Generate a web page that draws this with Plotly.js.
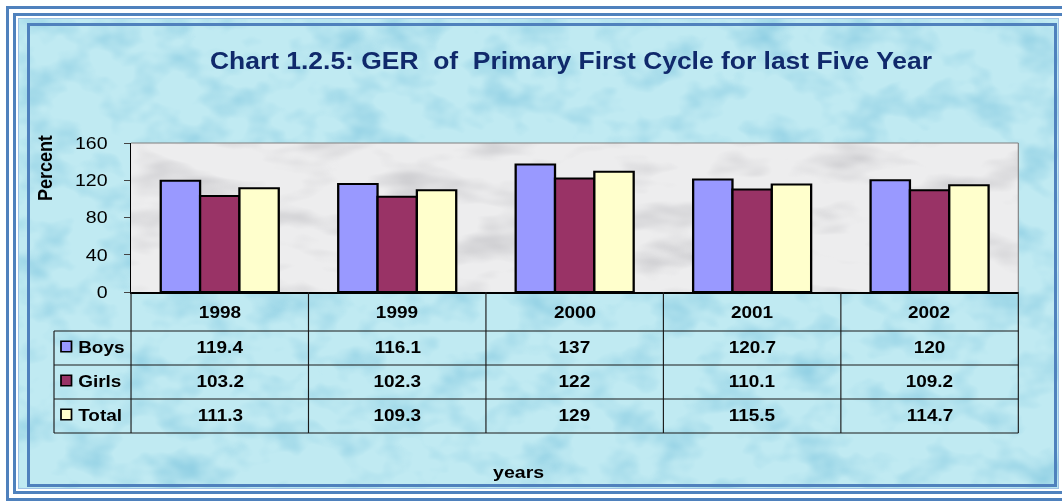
<!DOCTYPE html>
<html>
<head>
<meta charset="utf-8">
<script src="https://cdn.plot.ly/plotly-3.0.1.min.js"></script>
<style>
  html, body { margin: 0; padding: 0; background: #ffffff; width: 1062px; height: 501px; overflow: hidden; }
  .frame { position: absolute; box-sizing: border-box; }
  #f1 { left: 6px; top: 6px; width: 2000px; height: 495px; border: 3px solid #4f81bd; }
  #f2 { left: 13px; top: 13px; width: 2000px; height: 481px; border: 3px solid #4f81bd; }
  #f3 { left: 18px; top: 18px; width: 1041px; height: 471px; border: 1px solid #9fc2e4; background-color: #b7e5ee; }
  #f4 { left: 27px; top: 23px; width: 1030px; height: 464px; border: 3px solid #4f81bd; background-color: #b7e5ee; }
  #chart { position: absolute; left: 0; top: 0; width: 924px; height: 501px; transform-origin: 0 0; }
</style>
</head>
<body>
<div class="frame" id="f1"></div>
<div class="frame" id="f2"></div>
<div class="frame" id="f3"></div>
<div class="frame" id="f4"></div>
<div id="chart"></div>
<script>
// ---- data ----
const categories = ["1998", "1999", "2000", "2001", "2002"];
const seriesNames = ["Boys", "Girls", "Total"];
const boys  = [119.4, 116.1, 137, 120.7, 120];
const girls = [103.2, 102.3, 122, 110.1, 109.2];
const total = [111.3, 109.3, 129, 115.5, 114.7];
const yTicks = [0, 40, 80, 120, 160];
const titleText = "Chart 1.2.5: GER\u00a0 of\u00a0 Primary First Cycle for last Five Year";
const yTitle = "Percent";
const xTitle = "years";

// ---- decorative textures (SVG noise filters) ----
function texture(w, h, base, r, g, b, k, c, freq, seed) {
  const svg = "<svg xmlns='http://www.w3.org/2000/svg' width='" + w + "' height='" + h + "'>" +
    "<filter id='n' x='0' y='0' width='100%' height='100%' color-interpolation-filters='sRGB'>" +
    "<feTurbulence type='fractalNoise' baseFrequency='" + freq +
    "' numOctaves='3' seed='" + seed + "'/><feColorMatrix type='matrix' values='0 0 0 0 " + r + " 0 0 0 0 " + g +
    " 0 0 0 0 " + b + " " + k + " 0 0 0 " + c + "'/></filter>" +
    "<rect width='100%' height='100%' fill='" + base + "'/><rect width='100%' height='100%' filter='url(#n)'/></svg>";
  return 'data:image/svg+xml;charset=utf-8,' + encodeURIComponent(svg);
}
const water = texture(1041, 471, '#c0eaf2', 0.56, 0.81, 0.89, 2.0, -0.9, '0.022 0.03', 7);
['f3', 'f4'].forEach(id => {
  const el = document.getElementById(id);
  el.style.backgroundImage = 'url("' + water + '")';
  el.style.backgroundPosition = id === 'f3' ? '0 0' : '-9px -5px';
  el.style.backgroundRepeat = 'no-repeat';
});
const marble = texture(900, 160, '#ededee', 0.70, 0.70, 0.72, 1.5, -0.75, '0.012 0.03', 3);

// ---- geometry (page pixels) ----
const PAGE_W = 1062, PAGE_H = 501, PW = 924;
const S = PAGE_W / PW;                 // horizontal stretch of the reference
const L = 131, R = 1018, T = 143, B = 292;
document.getElementById('chart').style.transform = 'scaleX(' + S + ')';
const fx = p => (p - L) / (R - L);
const fy = p => (B - p) / (B - T);

const colors = ["#9999ff", "#993366", "#ffffcc"];
const values = [boys, girls, total];
const FONT = "Liberation Sans, Arial, sans-serif";

const traces = values.map((v, i) => ({
  type: 'bar', name: seriesNames[i], x: categories, y: v,
  marker: { color: colors[i], line: { color: '#000000', width: 2 } },
  hoverinfo: 'x+y+name'
}));

// table geometry
const rowLines = [331, 365, 399, 433];
const rowCenters = [346.5, 380.5, 414.5];
const headerCenter = 311.5;
const labelLeft = 54;
const lineColor = '#1a1a1a';

const shapes = [];
shapes.push({ type: 'line', xref: 'paper', yref: 'paper', x0: 0, x1: 1, y0: 1, y1: 1, line: { color: '#808080', width: 1 } });
shapes.push({ type: 'line', xref: 'paper', yref: 'paper', x0: 1, x1: 1, y0: 0, y1: 1, line: { color: '#808080', width: 1 } });
for (let i = 0; i <= categories.length; i++) {
  shapes.push({ type: 'line', xref: 'paper', yref: 'paper', x0: i / categories.length, x1: i / categories.length,
    y0: 0, y1: fy(rowLines[rowLines.length - 1]), line: { color: lineColor, width: 1 } });
}
shapes.push({ type: 'line', xref: 'paper', yref: 'paper', x0: fx(labelLeft), x1: fx(labelLeft),
  y0: fy(rowLines[0]), y1: fy(rowLines[rowLines.length - 1]), line: { color: lineColor, width: 1 } });
rowLines.forEach(r => shapes.push({ type: 'line', xref: 'paper', yref: 'paper', x0: fx(labelLeft), x1: 1,
  y0: fy(r), y1: fy(r), line: { color: lineColor, width: 1 } }));
const keyX0 = 61, keyX1 = 71.5, keyH = 10.5;
rowCenters.forEach((c, i) => shapes.push({ type: 'rect', xref: 'paper', yref: 'paper',
  x0: fx(keyX0), x1: fx(keyX1), y0: fy(c - keyH / 2), y1: fy(c + keyH / 2),
  fillcolor: colors[i], line: { color: '#000000', width: 1.5 } }));

const annotations = [];
const numFont = { family: FONT, size: 16.5, color: '#000000' };
categories.forEach((c, j) => annotations.push({ xref: 'x', yref: 'paper', x: j, y: fy(headerCenter),
  text: '<b>' + c + '</b>', showarrow: false, font: numFont, xanchor: 'center', yanchor: 'middle' }));
values.forEach((v, i) => {
  v.forEach((val, j) => annotations.push({ xref: 'x', yref: 'paper', x: j, y: fy(rowCenters[i]),
    text: '<b>' + String(val) + '</b>', showarrow: false, font: numFont, xanchor: 'center', yanchor: 'middle' }));
  annotations.push({ xref: 'paper', yref: 'paper', x: fx(76), y: fy(rowCenters[i]),
    text: '<b>' + seriesNames[i] + '</b>', showarrow: false, font: numFont, xanchor: 'left', yanchor: 'middle' });
});
annotations.push({ xref: 'paper', yref: 'paper', x: fx(45), y: fy(168), text: '<b>' + yTitle + '</b>',
  textangle: -90, showarrow: false, font: { family: FONT, size: 18, color: '#000000' }, xanchor: 'center', yanchor: 'middle' });
annotations.push({ xref: 'paper', yref: 'paper', x: fx(518), y: fy(473), text: '<b>' + xTitle + '</b>',
  showarrow: false, font: { family: FONT, size: 17, color: '#000000' }, xanchor: 'center', yanchor: 'middle' });

const layout = {
  width: PW, height: PAGE_H,
  margin: { l: L / S, r: PW - R / S, t: T, b: PAGE_H - B, pad: 0 },
  paper_bgcolor: 'rgba(0,0,0,0)',
  plot_bgcolor: '#e6e6e8',
  showlegend: false,
  barmode: 'group', bargap: 0.335, bargroupgap: 0,
  font: { family: FONT, color: '#000000' },
  title: { text: '<b>' + titleText + '</b>', xref: 'container', yref: 'container',
    x: 571 / PAGE_W, y: 1 - 61 / PAGE_H, xanchor: 'center', yanchor: 'middle',
    font: { family: FONT, size: 23, color: '#10296b' } },
  xaxis: { type: 'category', categoryorder: 'array', categoryarray: categories,
    range: [-0.5, categories.length - 0.5], autorange: false,
    showticklabels: false, ticks: '', showline: true, linecolor: '#000000', linewidth: 1.5,
    showgrid: false, zeroline: false, fixedrange: true },
  yaxis: { range: [0, 160], autorange: false, tickvals: yTicks, ticks: 'outside', ticklen: 5, tickcolor: '#444444', tickwidth: 1,
    showline: true, linecolor: '#000000', linewidth: 1, showgrid: false, zeroline: false,
    tickfont: { family: FONT, size: 17, color: '#000000' }, ticklabelstandoff: 11, fixedrange: true },
  images: [{ source: marble, xref: 'paper', yref: 'paper', x: 0, y: 1, sizex: 1, sizey: 1,
    sizing: 'stretch', xanchor: 'left', yanchor: 'top', layer: 'below' }],
  shapes: shapes,
  annotations: annotations
};

Plotly.newPlot('chart', traces, layout, { displayModeBar: false, staticPlot: true });
</script>
</body>
</html>
